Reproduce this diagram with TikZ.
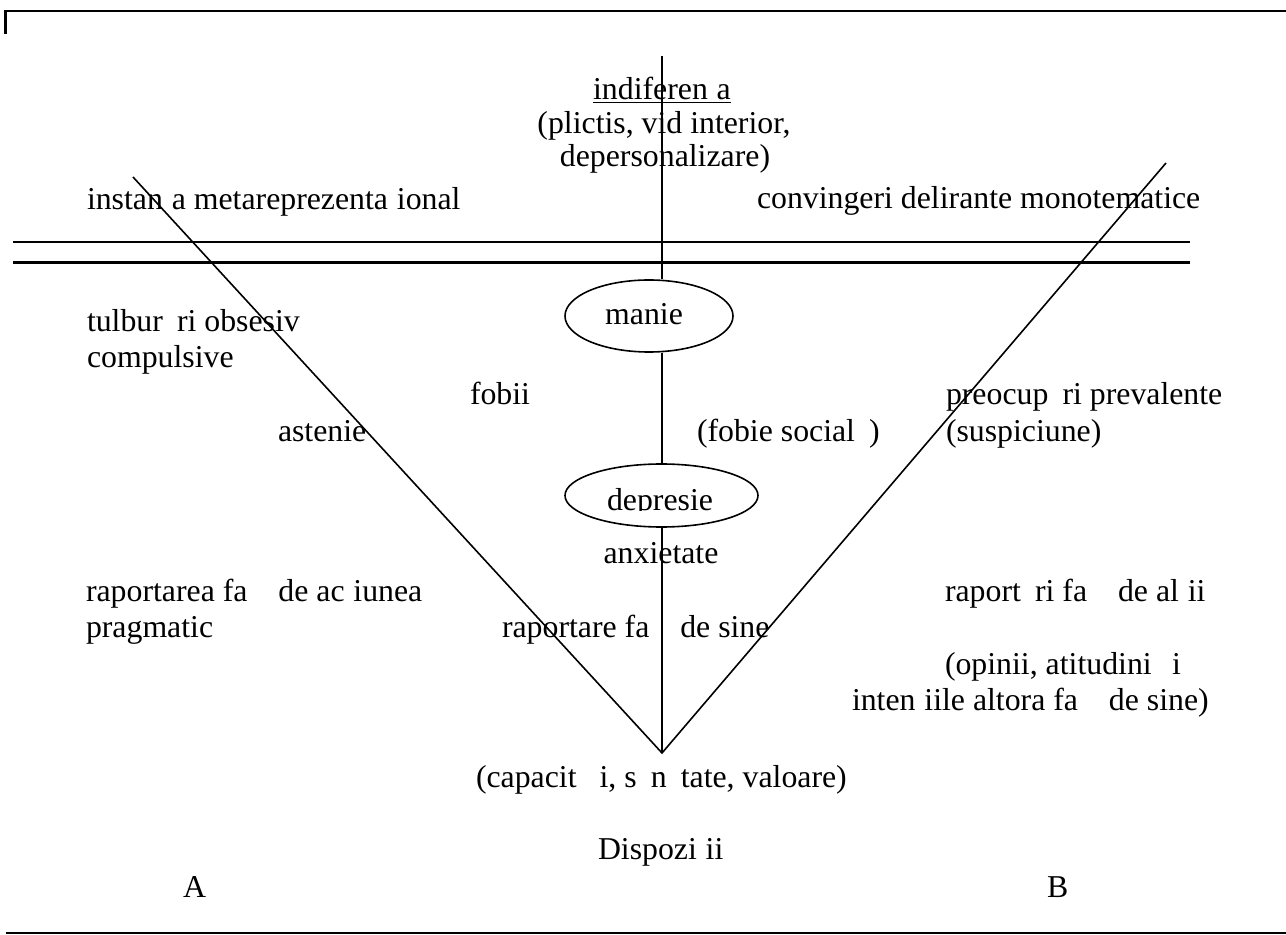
\documentclass[tikz,border=0pt]{standalone}
\usepackage{fontspec}
\setmainfont{Liberation Serif}
\usetikzlibrary{shapes.geometric}
% blank slots where the diacritic letters fall out of the printed text
\newcommand{\gT}{\phantom{t}}
\newcommand{\gA}{\phantom{a}}
\newcommand{\gS}{\phantom{s}}
\begin{document}
\begin{tikzpicture}[x=0.5pt,y=-0.5pt,
  txt/.style={inner sep=0pt,outer sep=0pt,font=\fontsize{15.9}{17}\selectfont},
  lw/.style={txt,anchor=base west},
  ctr/.style={txt,anchor=base},
  frameline/.style={line width=1.1pt},
  rule/.style={line width=1.1pt},
  axis/.style={line width=0.8pt},
  oval/.style={draw,ellipse,line width=0.8pt,inner sep=0pt}]
\useasboundingbox (0,0) rectangle (1286,935);

% page frame
\coordinate (fstub) at (5.5,34);
\coordinate (ftl) at (5.5,11);
\coordinate (ftr) at (1286,11);
\coordinate (fbl) at (5.5,933);
\coordinate (fbr) at (1286,933);
\draw[frameline] (fstub) -- (ftl) -- (ftr);
\draw[frameline] (fbl) -- (fbr);

% double horizontal rule
\coordinate (h1l) at (13,242);
\coordinate (h1r) at (1190,242);
\coordinate (h2l) at (13,262.5);
\coordinate (h2r) at (1190,262.5);
\draw[rule] (h1l) -- (h1r);
\draw[rule] (h2l) -- (h2r);

% the V and its central axis
\coordinate (apex) at (662,753);
\coordinate (ltop) at (133,177);
\coordinate (rtop) at (1166,163);
\coordinate (vtop) at (662,56);
\draw[axis] (ltop) -- (apex) -- (rtop);

% ovals on the axis
\node[oval,minimum width=84pt,minimum height=36pt] (manie) at (649,316) {};
\node[ctr] (manieT) at (644,325) {manie};
\node[oval,minimum width=96.5pt,minimum height=31.5pt] (depresie) at (661.5,495.5) {};
\begin{scope}
  \clip (560,450) rectangle (765,510.5);
  \node[ctr] (depresieT) at (660,511) {depresie};
\end{scope}

\draw[axis] (vtop) -- (vtop |- manie.north);
\draw[axis] (vtop |- manie.south) -- (vtop |- depresie.north);
\draw[axis] (vtop |- depresie.south) -- (apex);

% top block
\node[ctr] (ind) at (662,99.5) {\underline{indiferen\gT a}};
\node[ctr] (pli) at (664,134) {(plictis, vid interior,};
\node[ctr] (dep) at (665,167) {depersonalizare)};
\node[lw] (inst) at (87,210) {instan\gT a metareprezenta\gT ional};
\node[lw] (conv) at (757,209) {convingeri delirante monotematice};

% middle band
\node[lw] (tulb) at (87,332) {tulbur\gA ri obsesiv};
\node[lw] (comp) at (87,368) {compulsive};
\node[lw] (fob) at (470,405) {fobii};
\node[lw] (ast) at (278,442) {astenie};
\node[lw] (fsoc) at (697,442) {(fobie social\gA )};
\node[lw] (pre) at (946,405) {preocup\gA ri prevalente};
\node[lw] (sus) at (946,442) {(suspiciune)};
\node[ctr] (anx) at (661,564) {anxietate};

% lower band
\node[lw] (rfa) at (86,602) {raportarea fa\gT\gA{} de ac\gT iunea};
\node[lw] (prag) at (86,638) {pragmatic};
\node[lw] (rsine) at (502,638) {raportare fa\gT\gA{} de sine};
\node[lw] (ralt) at (945,602) {raport\gA ri fa\gT\gA{} de al\gT ii};
\node[lw] (opin) at (945,675) {(opinii, atitudini \gS i};
\node[lw] (inten) at (852,710) {inten\gT iile altora fa\gT\gA{} de sine)};

% base
\node[lw] (cap) at (476,787) {(capacit\gA\gT i, s\gA n\gA tate, valoare)};
\node[lw] (disp) at (598,859) {Dispozi\gT ii};
\node[lw] (A) at (183,897) {A};
\node[lw] (B) at (1047,897) {B};
\end{tikzpicture}
\end{document}
